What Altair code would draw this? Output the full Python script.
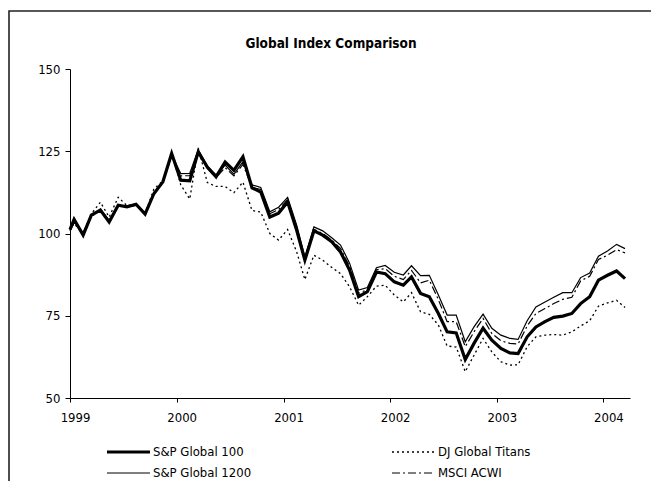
import altair as alt
import pandas as pd

# ---- data ----
months = [f"{y}-{m:02d}" for y in range(1999, 2005) for m in range(1, 13)][:63]
dates = ["1999-01-01"] + [m + "-15" for m in months]

sp100 = [101.2, 104.3, 99.5, 105.6, 107.1, 103.5, 108.6, 108.1, 108.9, 105.9, 112.1, 115.7, 124.3,
         116.2, 116.0, 124.8, 120.2, 117.2, 121.7, 119.2, 123.3, 113.9, 112.6, 105.0, 106.2,
         109.6, 101.0, 91.9, 100.8, 99.5, 97.5, 94.4, 88.9, 80.8, 82.3, 88.3, 87.8,
         85.3, 84.3, 86.8, 81.8, 80.8, 75.7, 70.1, 69.8, 61.7, 66.6, 71.2, 67.6,
         65.1, 63.7, 63.5, 68.6, 71.6, 73.2, 74.5, 74.9, 75.7, 78.7, 80.8, 85.8,
         87.3, 88.6, 86.3]
sp1200 = [100.8, 103.6, 100.3, 105.3, 107.3, 104.0, 108.6, 108.3, 108.8, 106.2, 112.3, 115.8, 124.0,
          118.2, 118.3, 125.5, 120.5, 117.8, 120.8, 118.0, 121.8, 114.8, 114.0, 106.6, 108.0,
          111.0, 102.5, 92.8, 102.0, 100.8, 98.7, 96.5, 91.0, 82.8, 83.6, 89.6, 90.3,
          88.2, 87.4, 90.2, 87.2, 87.3, 81.3, 75.2, 75.2, 67.1, 71.6, 75.5, 71.2,
          69.1, 68.1, 67.8, 73.5, 77.7, 79.2, 80.6, 82.0, 82.0, 86.6, 88.0, 93.1,
          94.7, 96.7, 95.4]
msci = [101.0, 103.2, 100.0, 105.0, 107.4, 103.8, 108.8, 108.0, 108.6, 106.0, 112.5, 115.5, 123.6,
        117.5, 117.6, 124.8, 119.8, 117.0, 120.0, 117.5, 121.0, 114.0, 113.4, 106.0, 107.3,
        110.3, 101.8, 92.3, 101.3, 100.0, 98.0, 95.5, 90.0, 81.8, 83.0, 89.0, 89.3,
        87.0, 86.0, 88.8, 85.0, 85.8, 79.9, 73.2, 73.2, 65.6, 70.1, 74.2, 69.6,
        67.4, 66.6, 66.4, 71.9, 75.7, 77.2, 78.7, 80.0, 80.6, 85.6, 87.0, 92.1,
        93.4, 95.1, 94.1]
dj = [101.0, 103.0, 100.0, 106.0, 109.5, 105.0, 111.0, 108.5, 109.0, 106.0, 113.5, 116.0, 124.5,
      114.8, 110.5, 126.0, 115.5, 114.3, 114.3, 112.4, 115.6, 107.0, 106.5, 100.0, 98.0,
      101.2, 94.4, 86.0, 93.4, 91.9, 89.7, 87.8, 83.8, 78.2, 80.8, 84.0, 84.3,
      81.3, 79.2, 82.0, 76.2, 75.4, 72.2, 65.8, 65.5, 58.0, 63.0, 68.1, 64.0,
      61.0, 60.0, 60.1, 65.6, 68.6, 69.1, 69.3, 69.1, 70.1, 71.9, 73.5, 77.9,
      78.9, 79.7, 77.5]

series_names = ["S&P Global 100", "DJ Global Titans", "S&P Global 1200", "MSCI ACWI"]
series_values = [sp100, dj, sp1200, msci]
year_ticks = [1999, 2000, 2001, 2002, 2003, 2004]
y_ticks = [50, 75, 100, 125, 150]
title_text = "Global Index Comparison"

FONT = "Liberation Sans Narrow, DejaVu Sans Condensed, Liberation Sans, sans-serif"

styles = {
    "S&P Global 100": dict(strokeWidth=3.2),
    "S&P Global 1200": dict(strokeWidth=1.2),
    "DJ Global Titans": dict(strokeWidth=1.3, strokeDash=[2, 3]),
    "MSCI ACWI": dict(strokeWidth=1.2, strokeDash=[8, 3, 2, 3]),
}

def dt(y, m=1, d=1):
    return alt.DateTime(year=y, month=m, date=d, utc=True)

x_enc = alt.X(
    "date:T",
    title=None,
    scale=alt.Scale(type="utc", domain=[dt(1999), dt(2004, 4, 1)]),
    axis=alt.Axis(values=[dt(y) for y in year_ticks], format="%Y", formatType="utc",
                  labelOffset=5, labelFlush=False, tickSize=4, labelPadding=9),
)
y_enc = alt.Y(
    "value:Q",
    title=None,
    scale=alt.Scale(domain=[50, 150], nice=False, zero=False),
    axis=alt.Axis(values=y_ticks, tickSize=5, labelPadding=5, labelFlush=False),
)

layers = []

# outer frame
frame = alt.Chart(pd.DataFrame({"k": [0]})).mark_rect(
    fill=None, stroke="#222222", strokeWidth=1.6
).encode(x=alt.value(-61), x2=alt.value(582), y=alt.value(-58), y2=alt.value(440))
layers.append(frame)

draw_order = ["MSCI ACWI", "S&P Global 1200", "DJ Global Titans", "S&P Global 100"]
for name in draw_order:
    vals = series_values[series_names.index(name)]
    d = pd.DataFrame({"date": dates, "value": vals})
    layers.append(
        alt.Chart(d).mark_line(color="black", **styles[name]).encode(x=x_enc, y=y_enc)
    )

# title
layers.append(
    alt.Chart(pd.DataFrame({"t": [title_text]})).mark_text(
        font=FONT, fontSize=13.5, fontWeight="bold", color="black", baseline="middle", align="center"
    ).encode(x=alt.value(261), y=alt.value(-25), text="t:N")
)

# legend (2 columns x 2 rows)
leg_cols = [37, 322]
leg_rows = [383, 404]
for i, name in enumerate(series_names):
    cx = leg_cols[i % 2]
    ry = leg_rows[i // 2]
    ld = pd.DataFrame({"n": [name]})
    layers.append(
        alt.Chart(ld).mark_rule(color="black", **styles[name]).encode(
            x=alt.value(cx), x2=alt.value(cx + 43), y=alt.value(ry)
        )
    )
    layers.append(
        alt.Chart(ld).mark_text(font=FONT, fontSize=13, color="black", align="left", baseline="middle").encode(
            x=alt.value(cx + 46), y=alt.value(ry), text="n:N"
        )
    )

chart = alt.layer(*layers).properties(
    width=560, height=329,
    autosize=alt.AutoSizeParams(type="none"),
    padding={"left": 62, "top": 61, "right": 21, "bottom": 83},
    background="white",
).configure_view(stroke=None).configure_axis(
    labelFont=FONT, labelFontSize=13, labelColor="black",
    domainColor="black", tickColor="black", grid=False, domainWidth=1, tickWidth=1,
)

chart.save("out.html", embed_options={"renderer": "svg", "actions": False})
